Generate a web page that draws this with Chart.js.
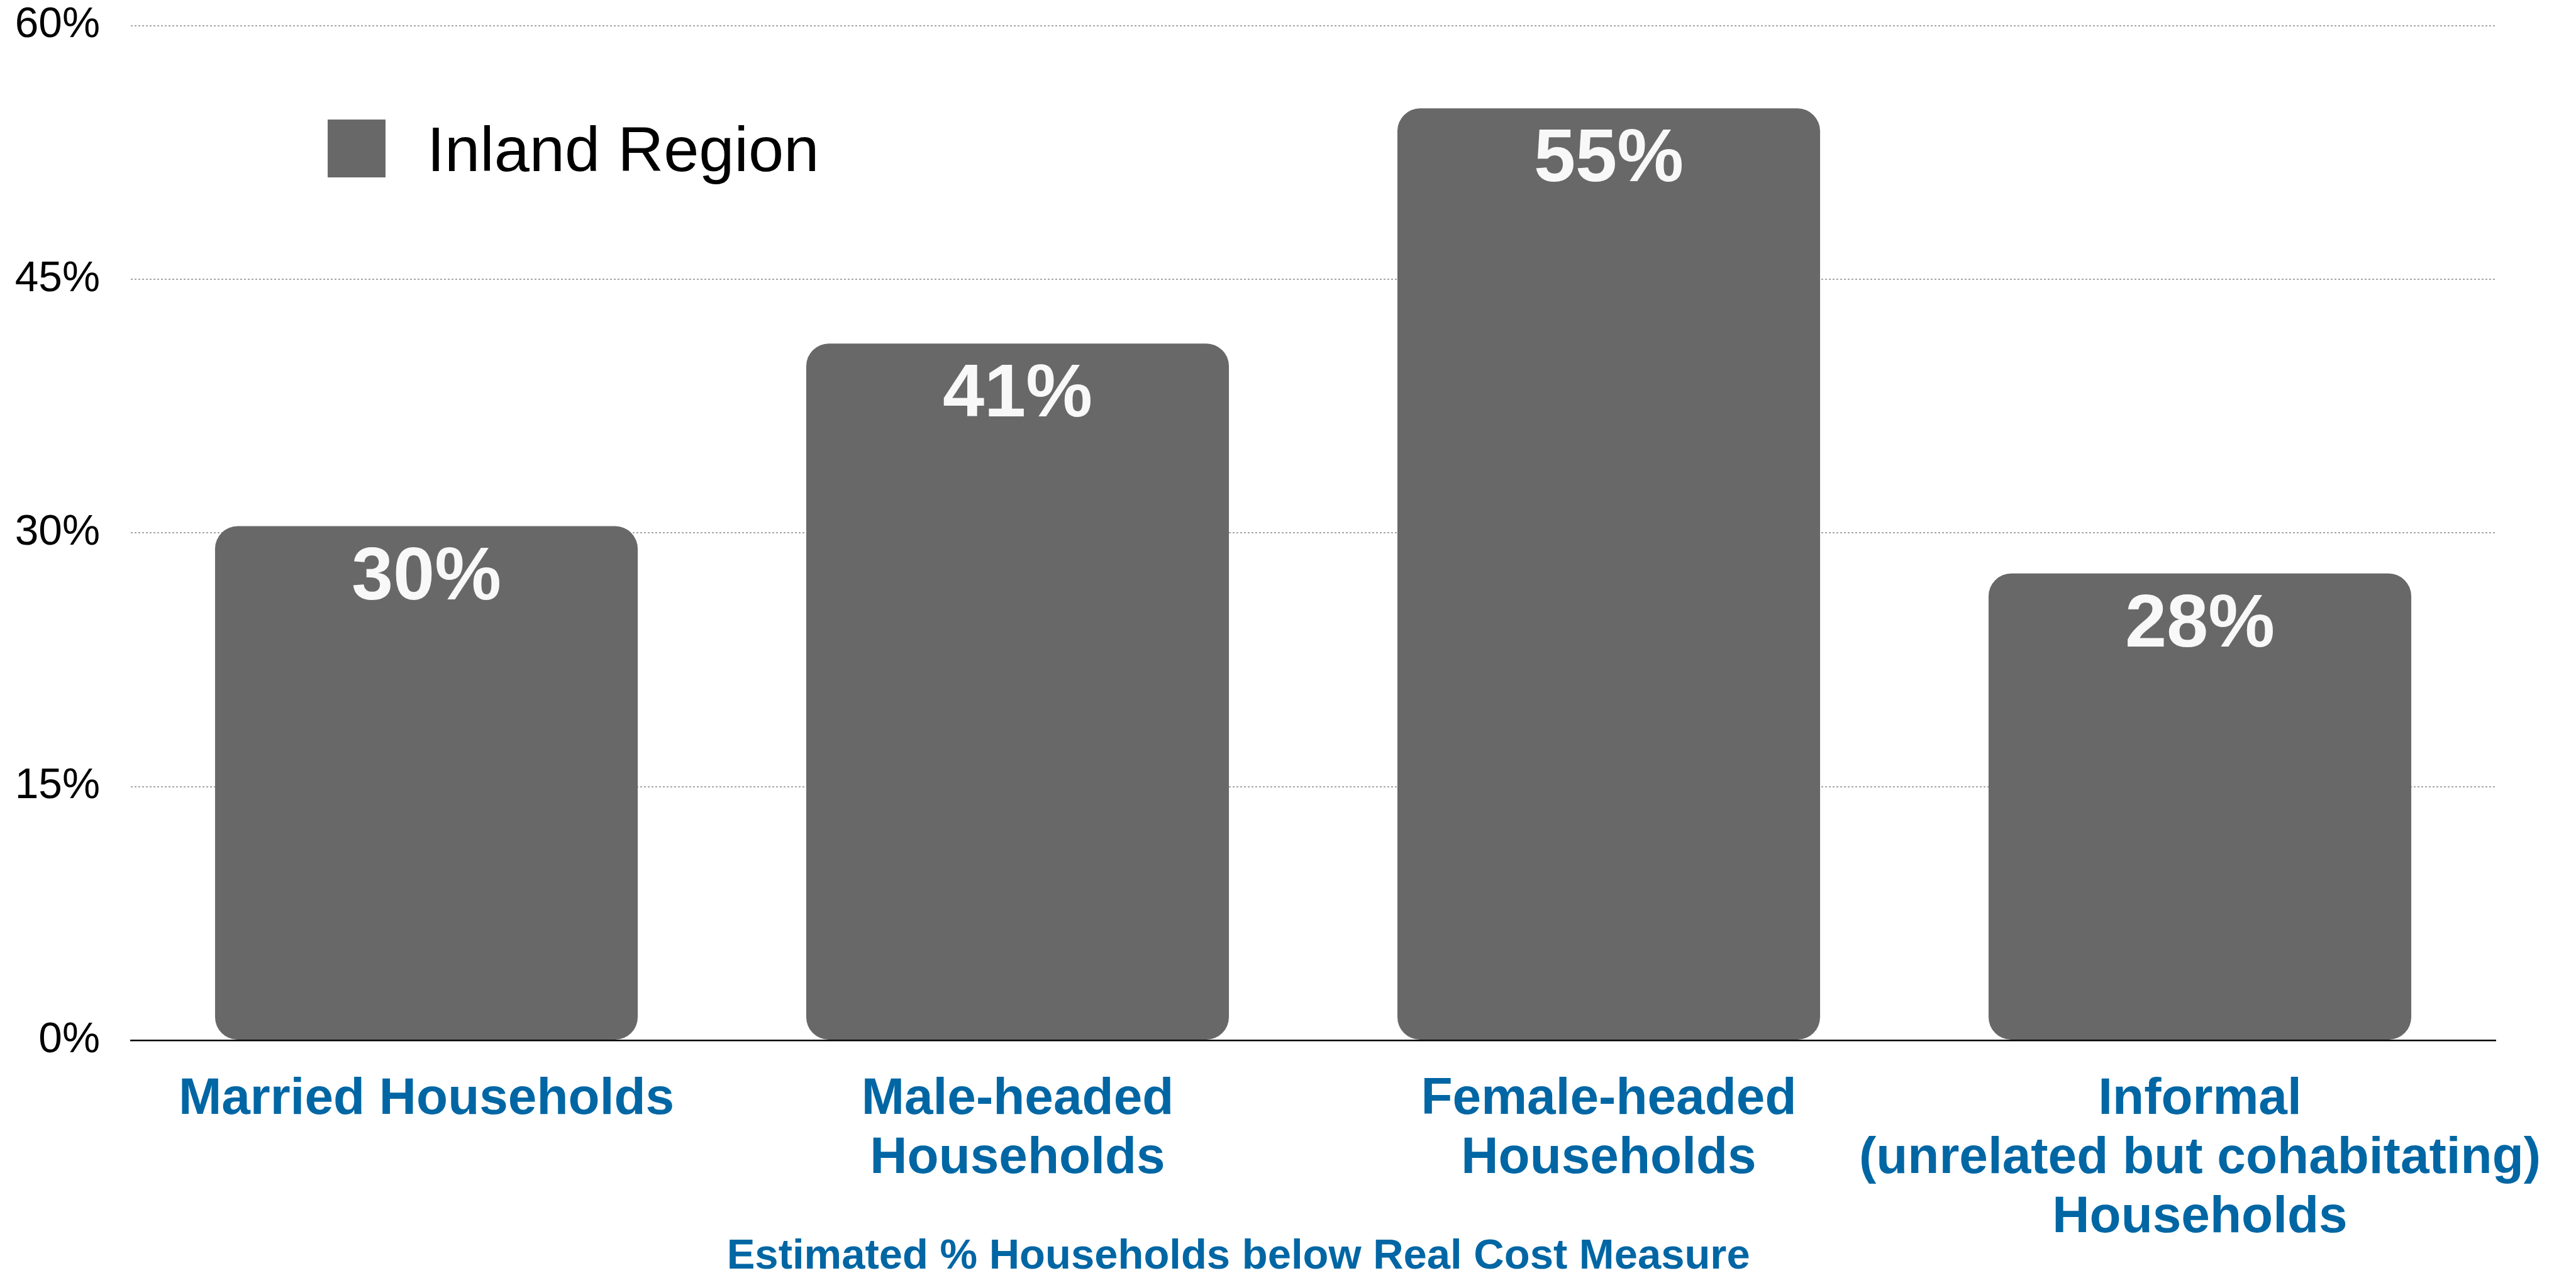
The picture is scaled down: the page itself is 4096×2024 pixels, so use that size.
<!DOCTYPE html>
<html>
<head>
<meta charset="utf-8">
<script src="https://cdn.jsdelivr.net/npm/chart.js@4/dist/chart.umd.min.js"></script>
<style>
  html, body { margin: 0; padding: 0; background: #fff; }
</style>
</head>
<body>
<canvas id="householdChart" width="4096" height="2024"></canvas>
<script>
const categories = [
    'Married Households',
    ['Male-headed', 'Households'],
    ['Female-headed', 'Households'],
    ['Informal', '(unrelated but cohabitating)', 'Households']
];
const seriesName = 'Inland Region';
const inlandValues = [30.4, 41.2, 55.1, 27.6];
const valueLabels = ['30%', '41%', '55%', '28%'];
const yTickValues = [0, 15, 30, 45, 60];
const captionText = 'Estimated % Households below Real Cost Measure';

const FONT = "'Liberation Sans', Arial, Helvetica, sans-serif";
const BAR_GREY = '#686868';
const LABEL_BLUE = '#0066a4';

// draws value labels inside bar tops, the legend box and the bottom caption
const overlayPlugin = {
    id: 'overlay',
    afterDatasetsDraw: function(chart) {
        const ctx = chart.ctx;
        const area = chart.chartArea;
        const meta = chart.getDatasetMeta(0);

        ctx.save();
        ctx.fillStyle = '#f8f8f8';
        ctx.font = 'bold 119px ' + FONT;
        ctx.textAlign = 'center';
        ctx.textBaseline = 'alphabetic';
        meta.data.forEach(function(bar, i) {
            ctx.fillText(valueLabels[i], bar.x, bar.y + 116);
        });

        // legend inside the plot area
        ctx.fillStyle = BAR_GREY;
        ctx.fillRect(area.left + 313, area.top + 149.5, 92, 92);
        ctx.fillStyle = '#000';
        ctx.font = '101px ' + FONT;
        ctx.textAlign = 'left';
        ctx.fillText(chart.data.datasets[0].label, area.left + 471, area.top + 231.5);

        // caption under the category labels
        ctx.fillStyle = LABEL_BLUE;
        ctx.font = 'bold 67px ' + FONT;
        ctx.textAlign = 'center';
        ctx.fillText(captionText, area.left + 0.4684 * (area.right - area.left), chart.height - 7);
        ctx.restore();
    }
};

const ctx = document.getElementById('householdChart').getContext('2d');
const householdChart = new Chart(ctx, {
    type: 'bar',
    data: {
        labels: categories,
        datasets: [{
            label: seriesName,
            data: inlandValues,
            backgroundColor: BAR_GREY,
            borderWidth: 0,
            borderRadius: 36,
            borderSkipped: false,
            barPercentage: 0.715,
            categoryPercentage: 1.0
        }]
    },
    options: {
        responsive: false,
        devicePixelRatio: 1,
        animation: false,
        layout: {
            padding: { top: 0, right: 128, bottom: 40, left: 0 }
        },
        scales: {
            x: {
                // invisible tick marks give the label gap (ticks.padding is counted twice in fit)
                grid: {
                    display: true,
                    drawOnChartArea: false,
                    drawTicks: true,
                    tickLength: 47,
                    color: 'rgba(0,0,0,0)',
                    tickColor: 'rgba(0,0,0,0)'
                },
                border: { display: true, color: '#000', width: 2.5 },
                ticks: {
                    color: LABEL_BLUE,
                    font: { family: FONT, size: 82, weight: 'bold', lineHeight: 1.15 },
                    padding: 0,
                    autoSkip: false,
                    maxRotation: 0,
                    minRotation: 0
                }
            },
            y: {
                min: 0,
                max: 60,
                afterBuildTicks: function(scale) {
                    scale.ticks = yTickValues.map(v => ({ value: v }));
                },
                afterFit: function(scale) {
                    scale.width = 208;
                },
                grid: {
                    drawTicks: true,
                    tickLength: 49,
                    tickColor: 'rgba(0,0,0,0)',
                    lineWidth: 2,
                    color: function(context) {
                        return context.tick && context.tick.value === 0 ? 'rgba(0,0,0,0)' : '#a6a6a6';
                    }
                },
                border: { display: false, dash: [3, 3] },
                ticks: {
                    color: '#000',
                    font: { family: FONT, size: 67.6 },
                    padding: 0,
                    callback: function(value) {
                        return value + '%';
                    }
                }
            }
        },
        plugins: {
            legend: { display: false },
            tooltip: { enabled: false },
            title: { display: false }
        }
    },
    plugins: [overlayPlugin]
});
</script>
</body>
</html>
